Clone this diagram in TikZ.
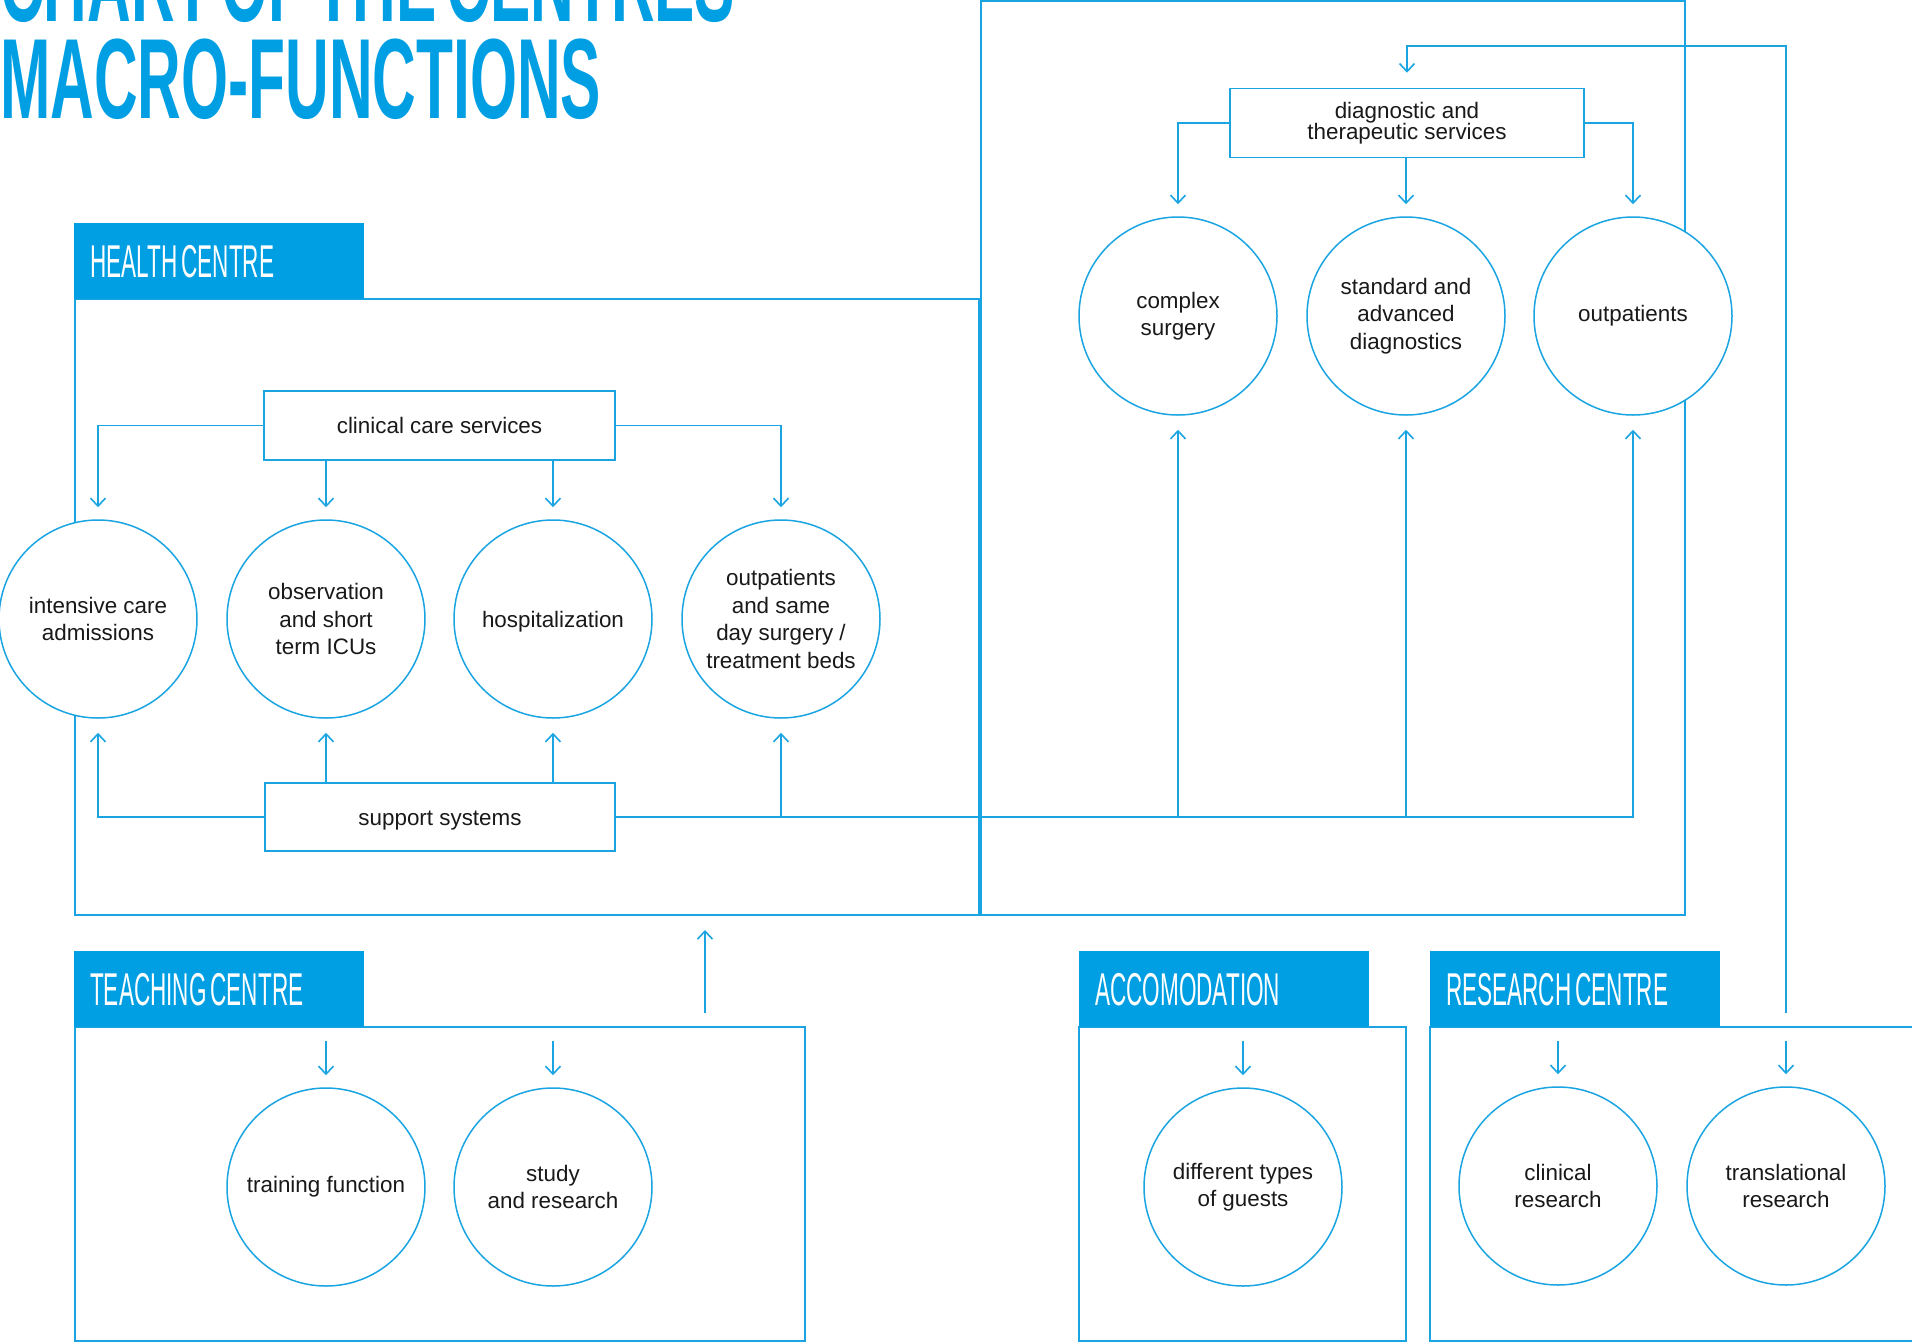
\documentclass[tikz,border=0pt]{standalone}
\usepackage{fontspec}
\setmainfont{Liberation Sans}
\newfontfamily\headfont[FakeStretch=0.49]{Liberation Sans}
\newfontfamily\titlefont[FakeStretch=0.53,WordSpace=0.6]{Liberation Sans}
\usetikzlibrary{arrows.meta}
\definecolor{cblue}{HTML}{009FE3}
\definecolor{lblue}{HTML}{1AA5E2}
\newcommand{\hsp}{\hspace{4pt}}
\begin{document}
\begin{tikzpicture}[x=1pt,y=-1pt,
  ln/.style={draw=lblue,line width=1.6pt},
  frame/.style={draw=lblue,line width=1.8pt},
  bodyfont/.style={font=\fontsize{22.4}{27.5}\selectfont,text=black!90},
  circ/.style={circle,draw=lblue,line width=1.5pt,fill=white,minimum size=198pt,inner sep=0pt,align=center,bodyfont},
  boxn/.style={rectangle,draw=lblue,line width=1.6pt,fill=white,inner sep=0pt,align=center,bodyfont},
  oneline/.style={text height=16pt,text depth=0pt},
  head/.style={anchor=north west,fill=cblue,minimum width=290pt,minimum height=76pt,text width=258pt,inner xsep=16pt,inner ysep=0pt,align=left,text=white,font=\headfont\fontsize{46}{46}\selectfont},
  titletxt/.style={anchor=base west,inner sep=0pt,text=cblue,font=\titlefont\bfseries\fontsize{114}{97}\selectfont},
  arr/.style={ln,-{Straight Barb[length=8pt,width=15pt]},shorten >=12pt}
]
\useasboundingbox (0,0) rectangle (1912,1342);
\clip (0,0) rectangle (1912,1342);
\fill[white] (0,0) rectangle (1912,1342);

% title
\node[titletxt] (title1) at (0,21) {CHART OF THE CENTRES};
\node[titletxt] (title2) at (0,118) {MACRO-FUNCTIONS};

% container frames
\draw[frame] (981,1) rectangle (1685,915);
\draw[frame] (75,299) rectangle (979,915);
\draw[frame] (75,1027) rectangle (805,1341);
\draw[frame] (1079,1027) rectangle (1406,1341);
\draw[frame] (1430,1027) rectangle (1940,1341);

% headers
\node[head] (hHealth) at (74,223) {HEALTH\hsp CENTRE};
\node[head] (hTeach) at (74,951) {TEACHING\hsp CENTRE};
\node[head] (hAcc) at (1079,951) {ACCOMODATION};
\node[head] (hRes) at (1430,951) {RESEARCH\hsp CENTRE};

% boxes
\node[boxn,oneline,minimum width=351pt,minimum height=69pt] (ccs) at (439.5,425.5) {clinical care services};
\node[boxn,oneline,minimum width=350pt,minimum height=68pt] (sup) at (440,817) {support systems};
\node[boxn,minimum width=354pt,minimum height=69pt,font=\fontsize{22.4}{21}\selectfont] (dts) at (1407,123) {diagnostic and\\therapeutic services};

% circles
\node[circ] (c1) at (98,619) {intensive care\\admissions};
\node[circ] (c2) at (326,619) {observation\\and short\\term ICUs};
\node[circ,oneline] (c3) at (553,619) {hospitalization};
\node[circ] (c4) at (781,619) {outpatients\\and same\\day surgery /\\treatment beds};
\node[circ] (d1) at (1178,316) {complex\\surgery};
\node[circ] (d2) at (1406,316) {standard and\\advanced\\diagnostics};
\node[circ] (d3) at (1633,316) {outpatients};
\node[circ] (t1) at (326,1187) {training function};
\node[circ] (t2) at (553,1187) {study\\and research};
\node[circ] (a1) at (1243,1187) {different types\\of guests};
\node[circ] (r1) at (1558,1186) {clinical\\research};
\node[circ] (r2) at (1786,1186) {translational\\research};

% clinical care services branches
\draw[arr] (ccs.west) -| (c1.north);
\draw[arr] (ccs.south -| c2) -- (c2.north);
\draw[arr] (ccs.south -| c3) -- (c3.north);
\draw[arr] (ccs.east) -| (c4.north);

% support systems branches
\draw[arr,shorten >=14pt] (sup.west) -| (c1.south);
\draw[arr,shorten >=14pt] (sup.north -| c2) -- (c2.south);
\draw[arr,shorten >=14pt] (sup.north -| c3) -- (c3.south);
\draw[arr,shorten >=14pt] (sup.east) -| (d3.south);
\draw[arr,shorten >=14pt] (sup.east -| c4) -- (c4.south);
\draw[arr,shorten >=14pt] (sup.east -| d1) -- (d1.south);
\draw[arr,shorten >=14pt] (sup.east -| d2) -- (d2.south);

% diagnostic branches
\draw[arr] (dts.west) -| (d1.north);
\draw[arr] (dts.south -| d2) -- (d2.north);
\draw[arr] (dts.east) -| (d3.north);

% research centre feedback to diagnostic services
\coordinate (rsrc) at (1786,1013);
\coordinate (rturn) at (1786,46);
\draw[arr,shorten >=15pt] (rsrc) -- (rturn) -| (dts.north);

% teaching centre up arrow
\coordinate (tchA) at (705,1013);
\coordinate (tchB) at (705,930);
\draw[arr,shorten >=0pt] (tchA) -- (tchB);

% short entry arrows in lower boxes
\coordinate (t1in) at (326,1041);
\coordinate (t2in) at (553,1041);
\coordinate (a1in) at (1243,1041);
\coordinate (r1in) at (1558,1041);
\coordinate (r2in) at (1786,1041);
\draw[arr] (t1in) -- (t1.north);
\draw[arr] (t2in) -- (t2.north);
\draw[arr] (a1in) -- (a1.north);
\draw[arr] (r1in) -- (r1.north);
\draw[arr] (r2in) -- (r2.north);
\end{tikzpicture}
\end{document}
